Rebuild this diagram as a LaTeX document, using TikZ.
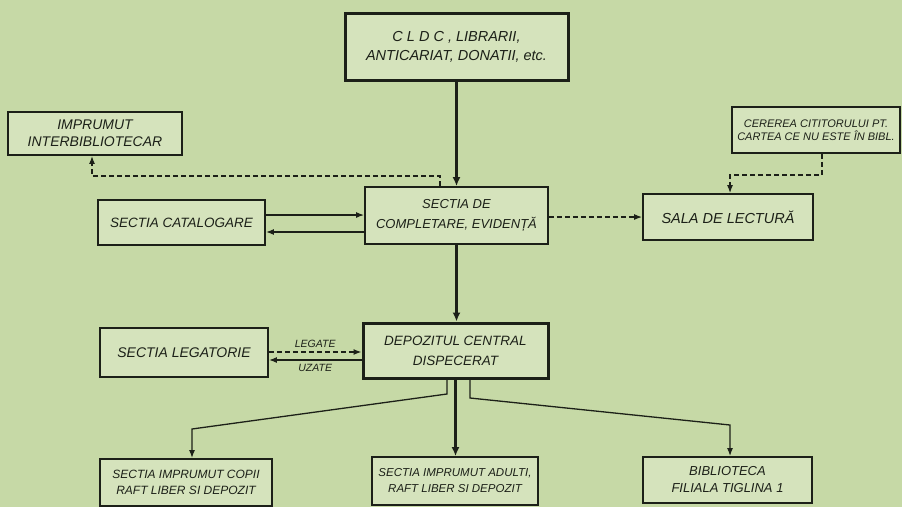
\documentclass[tikz,border=0pt]{standalone}
\usepackage{fontspec}
\setmainfont{Liberation Sans}
\usetikzlibrary{arrows.meta}
\definecolor{bg}{RGB}{198,217,166}
\definecolor{boxfill}{RGB}{213,227,188}
\definecolor{ink}{RGB}{28,32,24}
\newcommand{\fs}[2]{\itshape\fontsize{#1}{#2}\selectfont}
\begin{document}
\begin{tikzpicture}[x=1pt,y=-1pt,
  box/.style={draw=ink, fill=boxfill, line width=1.8pt, inner sep=0pt, align=center, text=ink, font=\fs{13}{19}},
  heavybox/.style={box, line width=3pt},
  conn/.style={draw=ink, line width=1.3pt, -{Latex[length=8pt,width=6pt]}},
  heavyconn/.style={draw=ink, line width=2.6pt, -{Latex[length=9pt,width=8pt]}},
  dashconn/.style={conn, dash pattern=on 5pt off 3pt},
  lbl/.style={text=ink, font=\fs{10.5}{12}, inner sep=1pt}]
\path[fill=bg] (0,0) rectangle (902,507);

% nodes
\node[heavybox, minimum width=223pt, minimum height=67pt, font=\fs{14.5}{19}] (src) at (456.5,46.5) {C L D C , LIBRARII,\\ANTICARIAT, DONATII, etc.};
\node[box, minimum width=174pt, minimum height=43pt, font=\fs{14}{17}] (imprumut) at (95,133.5) {IMPRUMUT\\INTERBIBLIOTECAR};
\node[box, minimum width=167pt, minimum height=45pt, font=\fs{13.5}{19}] (catalogare) at (181.5,222.5) {SECTIA CATALOGARE};
\node[box, minimum width=183pt, minimum height=57pt, font=\fs{13}{20}] (completare) at (456.5,215.5) {SECTIA DE\\COMPLETARE, EVIDENȚĂ};
\node[box, minimum width=170pt, minimum height=46pt, font=\fs{14.5}{19}] (sala) at (728,217) {SALA DE LECTURĂ};
\node[box, minimum width=168pt, minimum height=46pt, font=\fs{11}{13}] (cererea) at (816,130) {CEREREA CITITORULUI PT.\\CARTEA CE NU ESTE ÎN BIBL.};
\node[box, minimum width=168pt, minimum height=49pt, font=\fs{14}{19}] (legatorie) at (184,352.5) {SECTIA LEGATORIE};
\node[heavybox, minimum width=185pt, minimum height=55pt, font=\fs{13.5}{20}] (depozit) at (455.5,350.5) {DEPOZITUL CENTRAL\\DISPECERAT};
\node[box, minimum width=172pt, minimum height=47pt, font=\fs{12}{16}] (copii) at (186,482.5) {SECTIA IMPRUMUT COPII\\RAFT LIBER SI DEPOZIT};
\node[box, minimum width=166pt, minimum height=48pt, font=\fs{11.5}{16}] (adulti) at (455,481) {SECTIA IMPRUMUT ADULTI,\\RAFT LIBER SI DEPOZIT};
\node[box, minimum width=169pt, minimum height=46pt, font=\fs{13}{17}] (biblioteca) at (727.5,480) {BIBLIOTECA\\FILIALA TIGLINA 1};

% helper coordinates
\coordinate (k1) at (0,215);
\coordinate (k2) at (0,232);
\coordinate (s1) at (0,217);
\coordinate (d1) at (440,176);
\coordinate (d2) at (92,176);
\coordinate (e1) at (822,175);
\coordinate (e2) at (730,175);
\coordinate (lg) at (0,352);
\coordinate (uz) at (0,360);
\coordinate (b1) at (447,394);
\coordinate (b2) at (192,429);
\coordinate (c1) at (470,398);
\coordinate (c2) at (730,425);

% connectors
\draw[heavyconn] (src.south) -- (src.south |- completare.north);
\draw[heavyconn] (completare.south) -- (completare.south |- depozit.north);
\draw[conn] (catalogare.east |- k1) -- (completare.west |- k1);
\draw[conn] (completare.west |- k2) -- (catalogare.east |- k2);
\draw[dashconn] (completare.east |- s1) -- (sala.west |- s1);
\draw[dashconn] (completare.north -| d1) -- (d1) -- (d2) -- (imprumut.south -| d2);
\draw[dashconn] (cererea.south -| e1) -- (e1) -- (e2) -- (sala.north -| e2);
\draw[dashconn] (legatorie.east |- lg) -- node[above=3pt, lbl] {LEGATE} (depozit.west |- lg);
\draw[conn] (depozit.west |- uz) -- node[below=3pt, lbl] {UZATE} (legatorie.east |- uz);
\draw[heavyconn] (depozit.south) -- (depozit.south |- adulti.north);
\draw[conn] (depozit.south -| b1) -- (b1) -- (b2) -- (copii.north -| b2);
\draw[conn] (depozit.south -| c1) -- (c1) -- (c2) -- (biblioteca.north -| c2);
\end{tikzpicture}
\end{document}
